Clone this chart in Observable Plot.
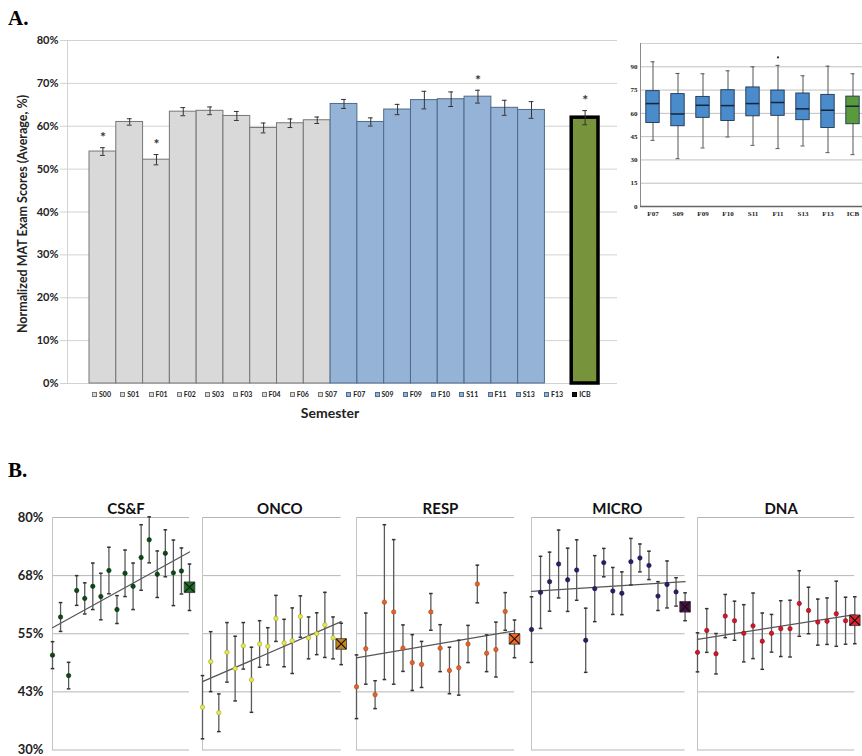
<!DOCTYPE html>
<html><head><meta charset="utf-8">
<script src="https://cdn.jsdelivr.net/npm/d3@7"></script>
<script src="https://cdn.jsdelivr.net/npm/@observablehq/plot@0.6"></script>
<style>
html,body{margin:0;padding:0;background:#fff;}
body{width:862px;height:756px;overflow:hidden;position:relative;font-family:Lato,sans-serif;}
#root{position:absolute;left:0;top:0;width:862px;height:756px;overflow:hidden;}
svg{overflow:visible;}
</style></head><body>
<div id="root"></div>
<script>
// ---------- Panel A data ----------
const semesters = ["S00","S01","F01","F02","S03","F03","F04","F06","S07","F07","S09","F09","F10","S11","F11","S13","F13","ICB"];
const semesterGroup = ["pre","pre","pre","pre","pre","pre","pre","pre","pre","post","post","post","post","post","post","post","post","icb"];
const scoreMeans = [54.1,61.0,52.2,63.4,63.6,62.4,59.6,60.7,61.4,65.2,61.0,63.9,66.1,66.3,66.9,64.3,63.8,62.0];
const scoreErrors = [0.9,0.75,1.2,0.95,0.9,1.05,1.15,1.0,0.75,1.05,0.95,1.2,2.05,1.7,1.5,1.75,1.95,1.65];
const significant = ["S00","F01","F11","ICB"];
const yTicksA = [0,10,20,30,40,50,60,70,80];

// ---------- Inset box plot data ----------
const boxSemesters = ["F07","S09","F09","F10","S11","F11","S13","F13","ICB"];
const boxMin    = [42.6,30.8,37.7,44.8,39.4,37.3,39.0,34.7,33.4];
const boxQ1     = [53.8,51.7,57.1,55.1,58.1,58.4,55.6,50.6,53.0];
const boxMedian = [66.3,59.6,65.2,65.0,66.3,67.0,62.9,62.0,64.6];
const boxQ3     = [74.3,72.4,70.6,74.9,76.7,74.7,72.8,71.9,70.8];
const boxMax    = [93.2,85.7,85.5,87.4,90.0,90.9,84.2,90.4,85.5];
const outlierSemesters = ["F11"];
const outlierValues = [96];
const boxTicks = [0,15,30,45,60,75,90];

// ---------- Panel B data ----------
const facetNames = ["CS&F","ONCO","RESP","MICRO","DNA"];
const csfMeans  = [50.4,58.6,46.0,64.3,62.6,65.2,63.0,68.6,60.2,68.0,65.2,71.4,75.2,67.8,72.3,68.1,68.5,65.0];
const csfErrors = [2.9,3.1,2.85,3.2,3.35,5.0,5.0,5.0,3.0,5.0,5.0,7.05,4.95,5.0,5.05,7.05,4.95,5.0];
const oncoMeans  = [39.2,49.0,38.0,51.0,47.5,52.4,45.1,52.8,52.3,58.3,53.0,53.5,58.7,54.1,55.0,56.9,54.1,52.8];
const oncoErrors = [6.8,6.45,4.05,6.4,6.95,5.0,7.0,5.0,4.0,4.95,5.1,7.05,4.45,4.5,4.5,7.0,4.5,4.45];
const respMeans  = [43.6,51.8,41.9,61.8,59.7,51.9,48.8,48.4,59.7,51.9,47.1,47.7,52.8,65.7,50.8,51.6,59.8,53.9];
const respErrors = [6.85,7.65,3.0,16.65,15.55,5.0,6.0,4.95,3.95,5.05,5.0,5.9,4.0,4.05,3.95,5.9,4.05,4.05];
const microMeans  = [55.9,63.9,66.2,70.0,66.6,68.7,53.6,64.7,70.3,64.2,63.7,70.5,71.3,69.7,63.1,65.6,64.0,60.8];
const microErrors = [7.05,7.75,6.35,7.3,6.8,6.5,6.9,7.1,3.05,5.05,4.6,5.0,3.0,3.05,3.1,5.05,3.05,3.0];
const dnaMeans  = [51.0,55.7,50.7,58.8,57.8,55.1,56.7,53.4,55.1,56.1,56.1,61.5,60.0,57.5,57.7,59.3,57.8,57.9];
const dnaErrors = [4.2,4.7,4.35,4.65,4.2,6.15,7.05,6.05,4.05,6.0,6.1,7.05,5.0,4.95,5.0,7.0,5.05,5.05];
const trendStarts = [56.3,44.7,49.8,64.1,53.8];
const trendEnds   = [72.6,57.6,55.6,66.2,59.1];
const yTicksB = [30,42.5,55,67.5,80];
const yTickLabelsB = ["30%","43%","55%","68%","80%"];

// ---------- helpers ----------
const root = document.getElementById("root");
function place(node, left, top) {
  node.style.position = "absolute";
  node.style.left = left + "px";
  node.style.top = top + "px";
  root.appendChild(node);
  return node;
}
function textDiv(txt, css) {
  const d = document.createElement("div");
  d.textContent = txt;
  d.style.cssText = "position:absolute;white-space:nowrap;line-height:1;" + css;
  root.appendChild(d);
  return d;
}

// ---------- Panel A: bar chart ----------
const slotDomain = [...semesters.slice(0, -1), "", semesters[semesters.length - 1]];
const bars = semesters.map((s, i) => ({s, v: scoreMeans[i], e: scoreErrors[i], g: semesterGroup[i]}));
const groupStyle = {
  pre:  {fill: "#d9d9d9", stroke: "#767676", sw: 1},
  post: {fill: "#95b3d7", stroke: "#4d6b8c", sw: 1},
  icb:  {fill: "#77933c", stroke: "#000000", sw: 3.5}
};
const mainChart = Plot.plot({
  width: 620, height: 400,
  marginTop: 40, marginBottom: 17, marginLeft: 67, marginRight: 3,
  style: {fontFamily: "Lato, sans-serif", background: "transparent", overflow: "visible"},
  x: {domain: slotDomain, padding: 0, round: false, insetLeft: 22, insetRight: 19, axis: null},
  y: {domain: [0, 80]},
  marks: [
    Plot.ruleY(yTicksA, {stroke: "#d2d2d2"}),
    Plot.axisY({ticks: yTicksA, tickFormat: d => d + "%", tickSize: 7, tickPadding: 2, stroke: "#d2d2d2", fill: "#222", fontSize: 11, fontWeight: "bold", label: null}),
    Plot.frame({anchor: "left", stroke: "#d2d2d2"}),
    ...["pre", "post", "icb"].map(g => Plot.barY(bars.filter(d => d.g === g), {
      x: "s", y: "v", fill: groupStyle[g].fill, stroke: groupStyle[g].stroke, strokeWidth: groupStyle[g].sw
    })),
    Plot.ruleX(bars, {x: "s", y1: d => d.v - d.e, y2: d => d.v + d.e, stroke: "#333"}),
    Plot.tickY(bars, {x: "s", y: d => d.v + d.e, insetLeft: 11, insetRight: 11, stroke: "#333"}),
    Plot.tickY(bars, {x: "s", y: d => d.v - d.e, insetLeft: 11, insetRight: 11, stroke: "#333"}),
    Plot.text(bars.filter(d => significant.includes(d.s)), {x: "s", y: d => d.v + d.e, text: () => "*", dy: -10, fontSize: 14, fill: "#333", fontWeight: "bold"})
  ]
});
place(mainChart, 0, 0);

// y-axis title
const yt = textDiv("Normalized MAT Exam Scores (Average, %)", "font:bold 12.5px Lato,sans-serif;color:#222;");
yt.style.left = "22px"; yt.style.top = "214px";
yt.style.transform = "translate(-50%,-50%) rotate(-90deg)";

// legend row
semesters.forEach((s, i) => {
  const g = groupStyle[semesterGroup[i]];
  const item = document.createElement("div");
  item.style.cssText = "position:absolute;display:flex;align-items:center;gap:2px;font:bold 7px Lato,sans-serif;color:#222;line-height:1;";
  const sw = document.createElement("span");
  const swFill = semesterGroup[i] === "icb" ? "#111" : g.fill;
  sw.style.cssText = `display:inline-block;width:5px;height:5px;background:${swFill};border:1px solid ${semesterGroup[i]==="icb" ? "#000" : g.stroke};box-sizing:border-box;`;
  const lb = document.createElement("span");
  lb.textContent = s;
  item.appendChild(sw); item.appendChild(lb);
  place(item, 92 + i * 28.25, 391);
});
const sem = textDiv("Semester", "font:bold 14px Lato,sans-serif;color:#222;");
sem.style.left = "330px"; sem.style.top = "412px"; sem.style.transform = "translate(-50%,-50%)";

// panel labels
const la = textDiv("A.", "font:bold 21px 'Liberation Serif',serif;color:#000;");
la.style.left = "8px"; la.style.top = "6px";
const lbB = textDiv("B.", "font:bold 21px 'Liberation Serif',serif;color:#000;");
lbB.style.left = "8px"; lbB.style.top = "458px";

// ---------- Inset box plot ----------
const boxes = boxSemesters.map((s, i) => ({s, lo: boxMin[i], q1: boxQ1[i], med: boxMedian[i], q3: boxQ3[i], hi: boxMax[i]}));
const outliers = outlierSemesters.map((s, i) => ({s, v: outlierValues[i]}));
const boxFill = s => s === "ICB" ? "#5a9a3c" : "#4a8bcb";
const inset = Plot.plot({
  width: 260, height: 185,
  marginTop: 3, marginBottom: 19, marginLeft: 25, marginRight: 10,
  style: {fontFamily: "'Liberation Serif', serif", background: "transparent", overflow: "visible"},
  x: {domain: boxSemesters, padding: 0, round: false},
  y: {domain: [0, 105]},
  marks: [
    Plot.ruleY(boxTicks.filter(t => t > 0), {stroke: "#c0c0c0"}),
    Plot.frame({anchor: "top", stroke: "#cfcfcf"}),
    Plot.frame({anchor: "left", stroke: "#8a8a8a"}),
    Plot.ruleY([0], {stroke: "#666", strokeWidth: 1.3}),
    Plot.axisY({ticks: boxTicks, tickSize: 0, tickPadding: 3, fontSize: 7, fontWeight: "bold", fill: "#222", label: null}),
    Plot.axisX({tickSize: 0, tickPadding: 5, fontSize: 7, fontWeight: "bold", fill: "#222", label: null}),
    Plot.ruleX(boxes, {x: "s", y1: "lo", y2: "hi", stroke: "#555"}),
    Plot.tickY(boxes, {x: "s", y: "hi", insetLeft: 10.5, insetRight: 10.5, stroke: "#555"}),
    Plot.tickY(boxes, {x: "s", y: "lo", insetLeft: 10.5, insetRight: 10.5, stroke: "#555"}),
    Plot.barY(boxes, {x: "s", y1: "q1", y2: "q3", insetLeft: 5.8, insetRight: 5.8, fill: d => boxFill(d.s), stroke: "#1f3550", strokeWidth: 0.9}),
    Plot.tickY(boxes, {x: "s", y: "med", insetLeft: 5.8, insetRight: 5.8, stroke: "#14243a", strokeWidth: 1.5}),
    Plot.dot(outliers, {x: "s", y: "v", r: 1.1, fill: "#333"})
  ]
});
place(inset, 615, 40);

// ---------- Panel B facets ----------
const facetSeries = [
  {means: csfMeans, errors: csfErrors},
  {means: oncoMeans, errors: oncoErrors},
  {means: respMeans, errors: respErrors},
  {means: microMeans, errors: microErrors},
  {means: dnaMeans, errors: dnaErrors}
];
const facetLayout = [
  {left: 52,    right: 189,   dot: "#0c4a14", dotStroke: "#062c0a", square: "#1d6e24", titleDx: 5},
  {left: 202.3, right: 341,   dot: "#e4ea4c", dotStroke: "#a4a42a", square: "#c98519", titleDx: 8},
  {left: 356,   right: 514,   dot: "#e4622c", dotStroke: "#a9441a", square: "#f36a24", titleDx: 5},
  {left: 530.7, right: 684.3, dot: "#2c1c6a", dotStroke: "#1a1040", square: "#4a0c48", titleDx: 9},
  {left: 696.7, right: 854,   dot: "#d4162c", dotStroke: "#8a0c1a", square: "#e8222c", titleDx: 5}
];
const capSymbol = {draw(ctx, size) { const w = Math.sqrt(size / Math.PI); ctx.moveTo(-w, 0); ctx.lineTo(w, 0); }};

facetNames.forEach((name, k) => {
  const L = facetLayout[k];
  const S = facetSeries[k];
  const n = S.means.length;
  const pts = S.means.map((v, i) => ({i, v, e: S.errors[i]}));
  const body = pts.slice(0, -1);
  const last = pts.slice(-1);
  const trend = [{x: 0, y: trendStarts[k]}, {x: n - 1, y: trendEnds[k]}];
  const ml = k === 0 ? 52 : 8, mr = 8;
  const marks = [
    Plot.ruleY(yTicksB, {stroke: "#b6b6b6"}),
    Plot.frame({anchor: "left", stroke: "#c4c4c4"}),
    Plot.line(trend, {x: "x", y: "y", stroke: "#555", strokeWidth: 1.2}),
    Plot.ruleX(pts, {x: "i", y1: d => d.v - d.e, y2: d => d.v + d.e, stroke: "#5a5a5a", strokeWidth: 1.3}),
    Plot.dot(pts, {x: "i", y: d => d.v + d.e, symbol: capSymbol, r: 1.8, stroke: "#333", fill: "none"}),
    Plot.dot(pts, {x: "i", y: d => d.v - d.e, symbol: capSymbol, r: 1.8, stroke: "#333", fill: "none"}),
    Plot.dot(body, {x: "i", y: "v", r: 2.2, fill: L.dot, stroke: L.dotStroke, strokeWidth: 0.6}),
    Plot.dot(last, {x: "i", y: "v", symbol: "square", r: 6, fill: L.square, stroke: "#3a3a3a", strokeWidth: 0.8}),
    Plot.dot(last, {x: "i", y: "v", symbol: "times", r: 4.6, stroke: "#111", strokeWidth: 1.1}),
    Plot.text([name], {text: d => d, frameAnchor: "top", dy: -14, dx: L.titleDx, fontSize: 15, fontWeight: "bold", fill: "#111"})
  ];
  if (k === 0) {
    marks.push(Plot.axisY({ticks: yTicksB, tickFormat: d => yTickLabelsB[yTicksB.indexOf(d)], tickSize: 0, tickPadding: 9, fontSize: 13, fontWeight: "bold", fill: "#222", label: null}));
  }
  const chart = Plot.plot({
    width: ml + (L.right - L.left) + mr, height: 266,
    marginTop: 27, marginBottom: 6.5, marginLeft: ml, marginRight: mr,
    style: {fontFamily: "Lato, sans-serif", background: "transparent", overflow: "visible"},
    x: {domain: [0, n - 1], axis: null},
    y: k === 0 ? {domain: [30, 80]} : {domain: [30, 80], axis: null},
    marks
  });
  place(chart, L.left - ml, 490);
});
</script>
</body></html>
